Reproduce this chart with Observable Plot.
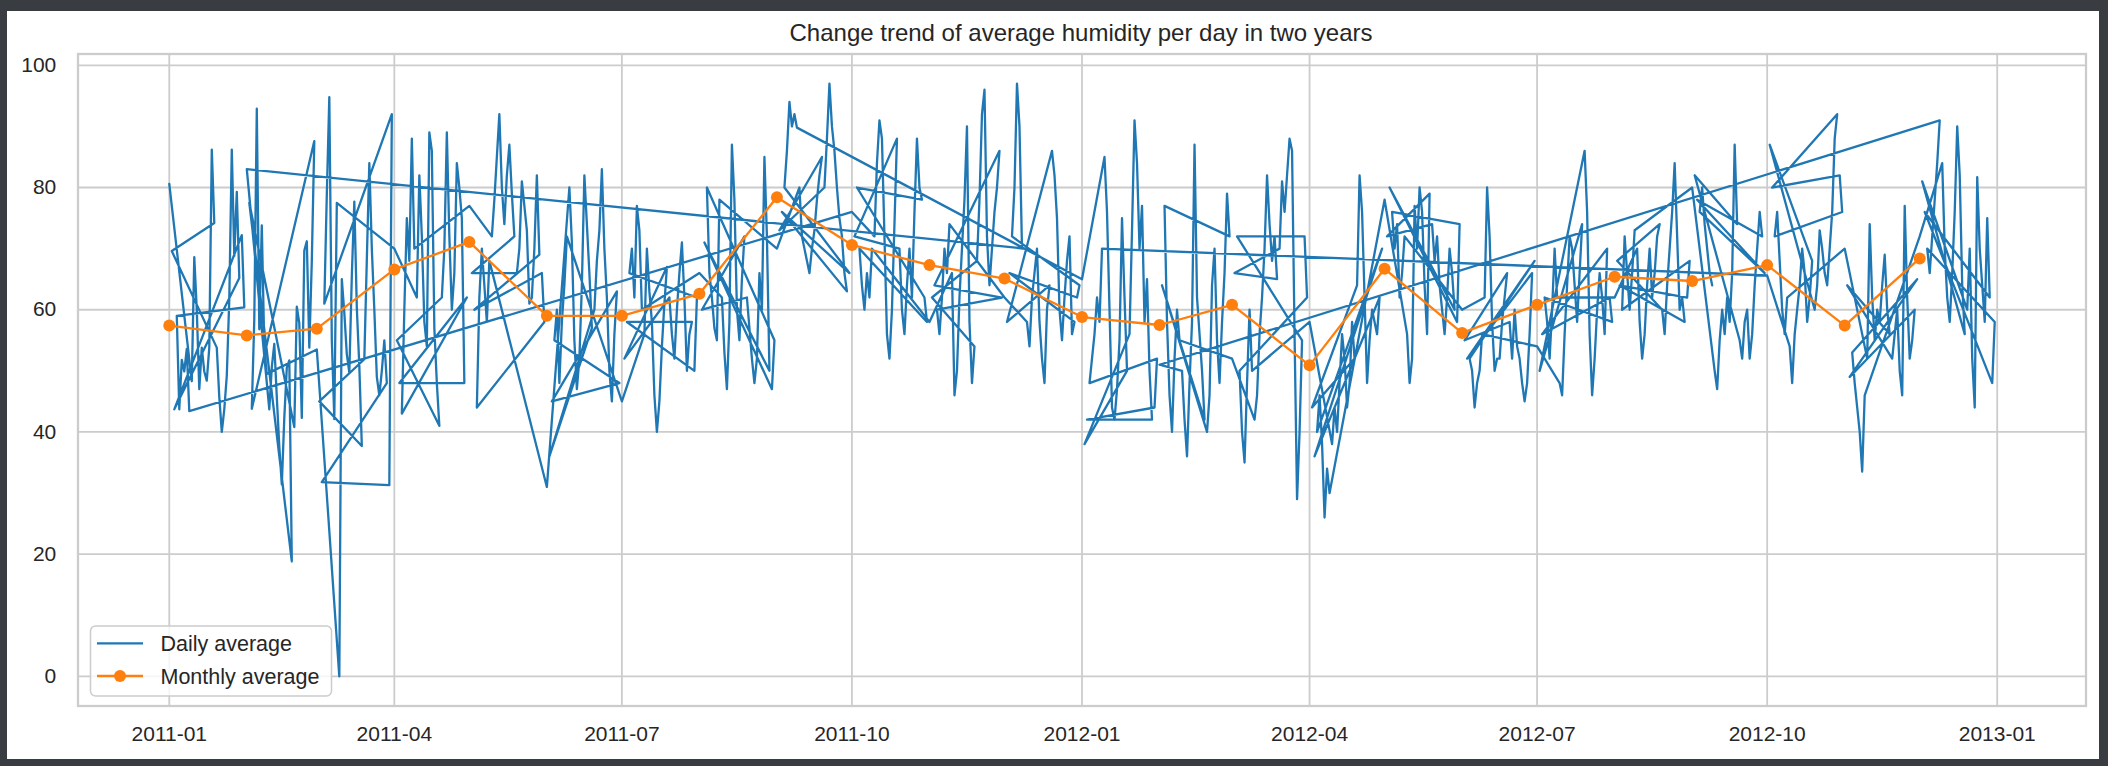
<!DOCTYPE html>
<html>
<head>
<meta charset="utf-8">
<script src="https://cdn.jsdelivr.net/npm/d3@7"></script>
<script src="https://cdn.jsdelivr.net/npm/@observablehq/plot@0.6"></script>
<style>
  html, body { margin: 0; padding: 0; }
  body { width: 2108px; height: 766px; background: #393c40; position: relative; overflow: hidden;
         font-family: "Liberation Sans", Arial, sans-serif; }
  #panel { position: absolute; left: 7px; top: 11px; width: 2092px; height: 748px; background: #ffffff; }
  #title { position: absolute; left: 0; width: 2092px; top: 0; text-align: center; font-size: 24px;
           color: #262626; line-height: 44px; padding-left: 56px; box-sizing: border-box; }
  #chart { position: absolute; left: 0; top: 0; }
  #legend { position: absolute; left: 0; top: 0; }
</style>
</head>
<body>
<div id="panel">
  <div id="chart"></div>
  <div id="title">Change trend of average humidity per day in two years</div>
  <svg id="legend" width="2092" height="748"></svg>
</div>
<script>
// Daily average humidity (%), one array per month, day 1..end
const d2011_01 = [80.6,69.6,43.7,59.0,43.7,51.8,49.9,53.6,43.4,48.3,68.6,60.0,47.0,53.8,49.9,48.4,53.8,86.2,74.2,53.8,45.7,40.0,43.7,49.2,61.7,86.2,68.8,79.3,65.2,72.2,60.4];
const d2011_02 = [83.0,77.5,43.8,58.5,92.9,56.8,73.8,53.8,49.5,43.7,50.6,54.4,45.7,37.6,31.4,42.3,50.5,51.7,18.8,40.8,60.5,57.8,42.3,69.7,71.2,53.8,68.0,87.6];
const d2011_03 = [53.5,45.0,31.8,61.0,78.9,94.8,55.1,42.1,77.5,0,65.0,59.5,52.7,49.7,65.5,77.7,60.3,50.8,37.7,51.9,68.2,84,70,60,49,46,50,55,48,31.3,92];
const d2011_04 = [70,55,48,43,60,75,68,88,70,62,82,72,58,54,89,86,57,48,41,62,70,89,72,60,66,84,80,75,48,62];
const d2011_05 = [77,66,60,44,62,70,64,58,68,72,78,85,92,80,74,82,87,79,72,66,70,81,77,73,61,62,70,82,69,66,58];
const d2011_06 = [31,36,45,55,60,48,58,64,72,80,71,55,47,52,64,82,74,66,57,60,68,73,83,70,62,50,45,56,63,48];
const d2011_07 = [45,52,58,66,70,62,77,73,60,56,70,63,58,46,40,45,54,61,67,62,56,52,60,66,71,62,50,56,58,50,62];
const d2011_08 = [66,60,71,80,66,62,57,55,78,62,53,47,58,87,78,60,55,65,72,62,57,52,48,52,66,60,85,72,50,47,55];
const d2011_09 = [70,73,76,80,86,94,90,92,89.8,80,72,70,68,66,70,73,78,82,85,80,88,97,90,86,80,75,72,66,63,66];
const d2011_10 = [76,72,80,70,64,60,66,62,70,72,84,91,88,72,56,52,60,74,88,70,60,56,64,70,62,76,88,80,78,62,58];
const d2011_11 = [58,62,64,60,56,62,70,66,74,66,46,50,62,70,78,90,58,48,54,68,78,92,96,72,64,70,76,80,86,62];
const d2011_12 = [62,58,66,72,80,97,90,70,70,58,54,62,66,70,58,52,48,60,64,86,82,75,60,55,62,68,72,56,58,62,64];
const d2012_01 = [65,38,42,48,52,56,62,58,70,85,76,60,44,42,47,55,75,62,50,56,73,91,84,70,77,58,65,50,42,44,52];
const d2012_02 = [51,64,77,58,46,40,52,60,55,50,42,36,48,58,87,62,56,50,42,40,46,64,70,55,48,58,66,79,72];
const d2012_03 = [52,66,72,50,40,35,48,60,50,42,46,56,62,70,82,74,68,72,65,70,81,76,82,88,86,56,29,40,55,72,62];
const d2012_04 = [58,44,36,40,46,38,26,34,30,38,44,40,48,56,52,44,48,58,52,64,82,76,62,48,55,60,58,56,62,70];
const d2012_05 = [78,72,80,76,70,74,62,66,72,56,48,52,77,70,80,76,64,56,79,74,68,72,64,60,56,62,70,66,60,58,74];
const d2012_06 = [60,55,52,52,50,44,48,50,56,62,80,72,58,50,52,52,58,62,66,58,52,60,54,52,48,45,48,56,66,68];
const d2012_07 = [54,50,56,62,58,52,60,70,62,48,46,56,64,72,70,64,58,66,74,86,76,56,46,52,60,66,62,56,70,62,58];
const d2012_08 = [62,68,64,60,72,66,60,66,73,70,58,52,56,64,70,62,66,72,74,60,56,64,70,76,84,72,60,62,58,62,68];
const d2012_09 = [80,82,78,76,80,74,70,66,64,50,47,55,60,56,62,58,66,87,74,55,52,58,60,52,56,64,70,76,72,66];
const d2012_10 = [65.6,87,80,72,76,68,60,56,62,54,48,56,60,64,70,66,58,62,68,60,64,73,70,66,64,70,76,88,92,82,76];
const d2012_11 = [70,64,49,53,48,44,40,33.5,46,52,74,62,55,60,58,64,69,60,56,52,56,60,50,46,77,62,52,55,60,65];
const d2012_12 = [72,81,76,70,66,72,78,84,91,84,70,62,58,66,76,90,82,64,56,60,70,52,44,81.7,70,64,58,75,62,48,58];

// Monthly average humidity (%), Jan..Dec
const monthly2011 = [57.4,55.8,56.9,66.6,71.1,59.0,59.0,62.6,78.4,70.6,67.3,65.1];
const monthly2012 = [58.8,57.5,60.8,50.9,66.7,56.2,60.8,65.4,64.7,67.3,57.4,68.4];

// Tick labels
const xTickLabels = ["2011-01","2011-04","2011-07","2011-10","2012-01","2012-04","2012-07","2012-10","2013-01"];
const yTickValues = [0,20,40,60,80,100];

const seriesNames = ["Daily average", "Monthly average"];
const colors = ["#1f77b4", "#ff7f0e"];

const byMonth = [
  [2011,1,d2011_01],[2011,2,d2011_02],[2011,3,d2011_03],[2011,4,d2011_04],[2011,5,d2011_05],[2011,6,d2011_06],
  [2011,7,d2011_07],[2011,8,d2011_08],[2011,9,d2011_09],[2011,10,d2011_10],[2011,11,d2011_11],[2011,12,d2011_12],
  [2012,1,d2012_01],[2012,2,d2012_02],[2012,3,d2012_03],[2012,4,d2012_04],[2012,5,d2012_05],[2012,6,d2012_06],
  [2012,7,d2012_07],[2012,8,d2012_08],[2012,9,d2012_09],[2012,10,d2012_10],[2012,11,d2012_11],[2012,12,d2012_12]
];

// Daily rows, ordered like the original: by the text key "YYYY/M/D"
const daily = [];
for (const [yr, mo, vals] of byMonth) {
  vals.forEach((v, i) => daily.push({key: `${yr}/${mo}/${i + 1}`, date: new Date(Date.UTC(yr, mo - 1, i + 1)), hum: v}));
}
daily.sort((a, b) => (a.key < b.key ? -1 : a.key > b.key ? 1 : 0));

const monthly = [];
monthly2011.forEach((v, i) => monthly.push({date: new Date(Date.UTC(2011, i, 1)), hum: v}));
monthly2012.forEach((v, i) => monthly.push({date: new Date(Date.UTC(2012, i, 1)), hum: v}));

const parseTick = d3.utcParse("%Y-%m");
const xTicks = xTickLabels.map(parseTick);

const dayMs = 86400000;
const first = daily.reduce((m, d) => (d.date < m ? d.date : m), daily[0].date);
const last = daily.reduce((m, d) => (d.date > m ? d.date : m), daily[0].date);
const span = last - first;
const xDomain = [new Date(+first - 0.05 * span), new Date(+last + 0.05 * span)];
const yMin = d3.min(daily, d => d.hum), yMax = d3.max(daily, d => d.hum);
const ySpan = yMax - yMin;
const yDomain = [yMin - 0.05 * ySpan, yMax + 0.05 * ySpan];

const W = 2092, H = 748;
const chart = Plot.plot({
  width: W,
  height: H,
  marginLeft: 70.5,
  marginRight: 13.5,
  marginTop: 42.5,
  marginBottom: 53.5,
  style: {fontFamily: '"Liberation Sans", Arial, sans-serif', fontSize: "21px", color: "#262626", background: "transparent", overflow: "visible"},
  x: {type: "utc", domain: xDomain},
  y: {domain: yDomain},
  marks: [
    Plot.gridX(xTicks, {stroke: "#cccccc", strokeOpacity: 1, strokeWidth: 1.8}),
    Plot.gridY(yTickValues, {stroke: "#cccccc", strokeOpacity: 1, strokeWidth: 1.8}),
    Plot.frame({stroke: "#cccccc", strokeWidth: 2.3}),
    Plot.axisX(xTicks, {tickSize: 0, tickPadding: 20, tickFormat: d3.utcFormat("%Y-%m"), label: null, fill: "#262626"}),
    Plot.axisY(yTickValues, {tickSize: 0, tickPadding: 21.7, label: null, fill: "#262626"}),
    Plot.line(daily, {x: "date", y: "hum", stroke: colors[0], strokeWidth: 2.3, strokeLinejoin: "round"}),
    Plot.line(monthly, {x: "date", y: "hum", stroke: colors[1], strokeWidth: 2.3}),
    Plot.dot(monthly, {x: "date", y: "hum", r: 6, fill: colors[1], stroke: "none"})
  ]
});
document.getElementById("chart").appendChild(chart);

// Legend (lower left inside the axes)
const lg = d3.select("#legend");
const bx = 83.5, by = 615, bw = 241, bh = 70;
lg.append("rect").attr("x", bx).attr("y", by).attr("width", bw).attr("height", bh).attr("rx", 5)
  .attr("fill", "#ffffff").attr("fill-opacity", 0.8).attr("stroke", "#cccccc").attr("stroke-width", 1.5);
const rowsY = [by + 17.3, by + 50];
seriesNames.forEach((name, i) => {
  lg.append("line").attr("x1", bx + 6.5).attr("x2", bx + 52.5).attr("y1", rowsY[i]).attr("y2", rowsY[i])
    .attr("stroke", colors[i]).attr("stroke-width", 2.3);
  if (i === 1) lg.append("circle").attr("cx", bx + 29.5).attr("cy", rowsY[i]).attr("r", 6).attr("fill", colors[i]);
  lg.append("text").attr("x", bx + 70).attr("y", rowsY[i]).attr("dy", "0.35em")
    .attr("font-family", '"Liberation Sans", Arial, sans-serif').attr("font-size", 21.5).attr("fill", "#262626").text(name);
});
</script>
</body>
</html>
